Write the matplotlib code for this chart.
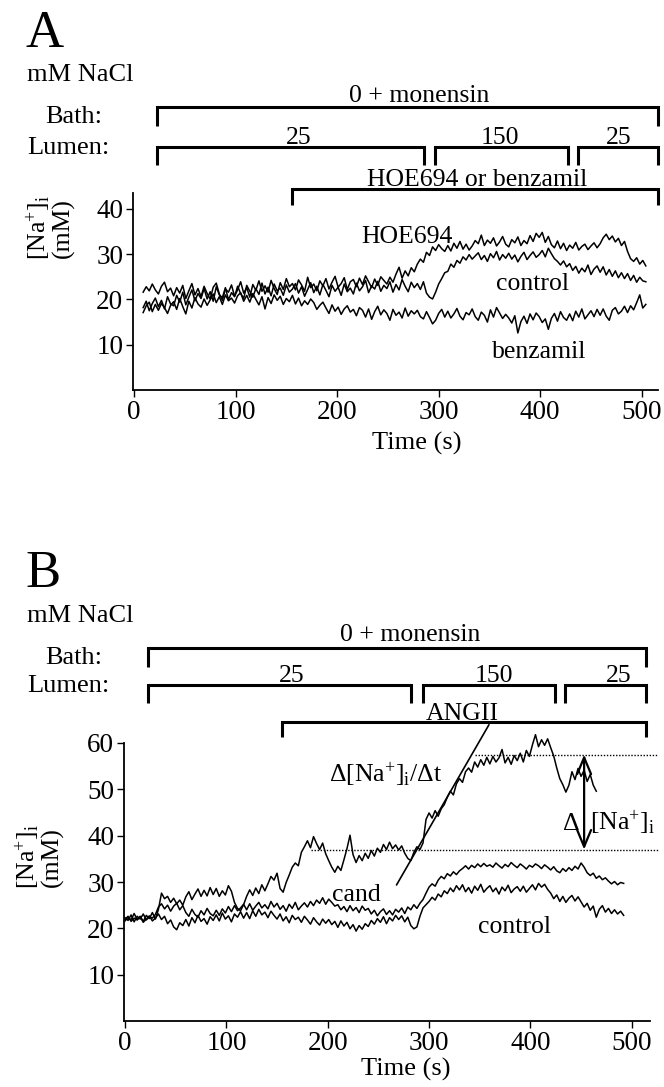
import matplotlib

matplotlib.use("Agg")
import matplotlib.pyplot as plt
import numpy as np

plt.rcParams["font.family"] = ["Liberation Serif", "DejaVu Serif"]
plt.rcParams["mathtext.fontset"] = "custom"
plt.rcParams["mathtext.rm"] = "Liberation Serif"
plt.rcParams["mathtext.it"] = "Liberation Serif:italic"
plt.rcParams["mathtext.default"] = "regular"

# ---------------- panel A data (time in s, [Na+]i in mM) ----------------
t_a = np.arange(9, 505, 3)
hoe694_a = [
    21.6, 22.8, 21.9, 23.4, 22.1, 21.2, 22.9, 23.8, 21.7, 22.5,
    20.8, 22.6, 21.4, 23.1, 20.2, 21.9, 23.5, 21.0, 22.4, 20.6,
    22.9, 21.3, 20.1, 22.7, 23.6, 21.2, 19.8, 22.3, 21.6, 23.2,
    20.7, 22.1, 23.9, 21.4, 22.6, 20.5, 23.3, 22.0, 24.1, 21.8,
    23.0, 21.6, 24.2, 22.4, 21.1, 23.7, 22.2, 24.6, 22.8, 23.5,
    22.1, 24.3, 23.2, 21.8, 24.9, 22.6, 23.4, 21.9, 24.1, 23.0,
    24.6, 22.3, 23.8, 25.1, 22.7, 23.5, 24.8, 22.2, 23.9, 24.4,
    22.8, 24.7, 23.3, 25.2, 23.9, 22.6, 24.5, 23.1, 25.0, 24.2,
    23.4, 24.9, 23.8, 25.6, 27.1, 24.7, 26.3, 25.2, 27.0, 26.1,
    27.8, 28.9, 28.2, 30.4, 29.7, 31.6, 30.8, 32.1, 31.2, 30.6,
    31.9, 30.7, 32.4, 31.3, 32.8, 31.1, 32.2, 30.9, 31.8, 33.0,
    32.3, 34.2, 31.9, 33.1, 32.4, 33.6, 31.8, 32.7, 33.9, 32.2,
    31.6, 33.2, 32.5, 33.8, 31.9, 33.0, 32.3, 34.1, 32.8, 34.6,
    33.7, 34.8, 32.6, 33.9, 32.1, 31.4, 32.9, 31.2, 32.4, 30.8,
    32.0, 31.3, 32.6, 30.9, 31.7, 32.2, 31.0, 31.8, 32.5, 31.4,
    32.3, 33.6, 34.4, 33.2, 34.0, 32.7, 33.5, 31.9, 32.8, 30.6,
    29.0, 28.4, 29.2, 27.8, 28.6, 27.4,
]
control_a = [
    18.2, 19.6, 17.5, 19.1, 20.3, 18.4, 19.8, 17.9, 20.6, 19.0,
    18.6, 20.9, 19.4, 21.6, 18.8, 20.5, 22.1, 19.7, 21.3, 20.2,
    22.4, 20.1, 21.7, 19.6, 22.8, 21.0, 20.4, 22.6, 19.9, 21.5,
    20.6, 22.9, 21.3, 20.2, 23.1, 21.8, 20.5, 22.4, 21.1, 23.6,
    21.2, 22.7, 20.8, 23.4, 21.9, 22.5, 20.9, 23.2, 21.6, 22.3,
    23.5, 21.4, 22.8, 20.7, 22.2, 23.7, 21.5, 22.9, 21.0, 23.3,
    22.0, 20.6, 23.1, 21.8, 22.7, 20.9, 23.4, 21.7, 22.5, 21.2,
    23.6, 21.9, 22.8, 24.2, 21.5, 23.0, 22.3, 24.0, 21.8, 23.1,
    22.4, 23.9, 21.6, 23.3, 22.1, 24.4, 22.9, 21.7, 23.8, 22.6,
    23.5, 22.2, 23.9, 21.4, 20.5, 20.1, 21.6, 23.4, 24.6, 25.9,
    26.2, 27.8, 27.1, 28.6, 28.0, 29.4, 28.7, 29.9, 28.9, 29.6,
    30.3, 28.8, 29.7, 28.4, 30.1, 29.2, 30.6, 28.7, 29.9, 29.1,
    30.2, 28.9, 29.8, 28.3, 29.5, 30.4, 28.8, 29.7, 30.5, 29.3,
    29.9, 30.8, 29.4, 31.3, 30.1, 29.0, 28.4, 27.6, 28.5, 27.2,
    27.9, 26.4, 27.3, 25.8, 26.9, 26.1, 27.6, 25.5, 26.7, 27.4,
    26.0, 27.2, 25.4, 26.6, 25.1, 26.3, 24.8, 25.9, 24.6, 25.7,
    24.2, 25.3, 23.8, 24.9, 24.1, 23.9,
]
benzamil_a = [
    17.1, 18.6, 19.4, 17.3, 18.9, 17.6, 19.1, 18.2, 16.9, 18.7,
    19.5, 17.8, 20.2, 18.4, 16.8, 19.6, 18.1, 20.4, 19.0, 18.3,
    20.1, 18.7, 19.9, 21.2, 19.3, 20.6, 18.9, 21.0, 19.7, 20.3,
    19.2, 20.8, 21.5, 19.6, 20.9, 19.4, 21.3, 20.0, 18.8, 20.6,
    17.9, 20.4, 19.1, 21.0, 19.8, 20.7, 18.9, 20.2, 19.5, 20.9,
    19.0, 20.3, 18.6, 19.7, 18.9, 20.1, 19.3, 17.8, 18.7, 19.4,
    18.1, 16.9, 18.8, 17.4, 18.3, 16.7, 17.9, 18.6, 17.2, 17.8,
    16.4, 18.2, 17.6, 16.1, 17.9, 15.6, 17.3, 18.5, 16.6, 17.7,
    16.9, 15.4, 17.8, 16.5, 17.2, 15.9, 18.1, 16.3, 17.5, 16.8,
    17.6, 16.2, 15.7, 17.3, 16.0, 14.6, 15.4, 16.9, 17.8, 16.1,
    17.4, 15.9, 16.8, 18.0, 16.3, 15.5, 17.1, 16.6, 17.9, 16.2,
    15.4, 17.2, 16.5, 15.0, 17.7, 16.1, 18.2, 17.0, 15.8, 16.7,
    15.9, 14.8, 16.4, 12.6, 15.1, 16.3, 14.7, 16.8, 15.5, 17.0,
    16.2, 14.9, 15.7, 13.4, 15.8, 16.9, 15.2, 17.3, 16.0, 15.4,
    16.8, 15.3, 17.4, 16.1, 17.9, 15.7, 16.6, 17.5, 16.2, 17.8,
    16.5, 17.9, 16.3, 15.4, 17.6, 18.2, 16.8, 17.4, 18.5, 17.1,
    18.6, 17.7, 19.3, 21.0, 18.1, 18.9,
]

# ---------------- panel B data ----------------
t_angii = np.arange(0, 466, 3)
angii_b = [
    21.6, 22.4, 21.8, 23.2, 21.9, 22.6, 21.5, 22.8, 22.1, 23.4,
    22.0, 24.1, 27.6, 26.4, 26.9, 25.6, 26.5, 25.3, 26.1, 25.0,
    26.8, 27.9, 26.2, 27.4, 28.5, 26.9, 28.2, 27.0, 28.8, 27.3,
    28.6, 26.9, 28.1, 27.2, 29.2, 28.0, 25.6, 24.3, 23.8, 25.1,
    26.9, 28.3, 27.1, 28.7, 27.5, 29.4, 28.1, 29.6, 31.2, 30.4,
    31.9, 28.6, 27.8, 29.9, 31.5, 33.2, 34.1, 33.5, 36.4, 37.6,
    38.9, 37.4, 39.8, 38.3, 37.0, 38.4, 36.1, 34.6, 33.2, 32.1,
    33.4, 32.5, 34.8, 37.2, 40.1, 35.9, 34.2, 35.7, 34.6, 36.2,
    35.1, 36.8, 35.6, 37.3, 36.4, 38.1, 37.0, 38.6, 37.2, 38.0,
    36.9, 37.8, 36.2, 35.1, 34.6, 36.4, 37.6, 37.0, 38.4, 43.5,
    44.9, 43.8, 45.4, 44.2, 45.8, 46.7, 48.3, 49.6, 48.8, 51.2,
    52.3, 51.5, 53.8, 54.6, 53.7, 55.9, 54.8, 56.4, 55.2, 56.9,
    55.5, 57.1, 55.9, 56.8, 58.6, 55.7, 56.9, 55.4, 57.3, 56.2,
    57.8, 55.9, 58.4, 57.1, 59.6, 61.8, 59.2, 60.7, 59.5, 60.9,
    59.0, 57.2, 54.6, 52.3, 51.0, 49.4, 50.9, 53.8, 52.1, 54.5,
    52.8, 54.1, 51.7, 53.2, 50.9, 49.6,
]
t_lower = np.arange(0, 493, 3)
cand_b = [
    22.3, 21.7, 22.9, 21.4, 22.6, 22.0, 23.1, 21.8, 22.5, 22.2,
    23.0, 24.6, 25.3, 24.2, 25.0, 23.7, 24.8, 25.4, 24.0, 24.9,
    23.4, 22.6, 24.1, 23.0, 22.4, 23.8, 22.9, 24.3, 23.2, 22.7,
    23.9, 22.8, 24.2, 23.3, 24.7, 23.6, 24.9, 23.8, 24.4, 25.2,
    24.0, 25.3, 23.9, 24.8, 25.6, 24.4, 25.1, 24.2, 25.8, 24.6,
    25.4, 24.1, 24.9, 23.7, 25.2, 24.3, 25.6, 24.0, 24.8, 25.5,
    24.6, 25.8, 24.9, 26.1, 25.4, 26.6, 25.2, 26.3, 25.6, 24.8,
    25.1, 24.0, 24.7, 23.6, 24.9, 23.8, 24.5, 23.4, 24.8, 23.9,
    24.3, 23.1, 23.9, 22.7, 23.6, 24.2, 23.0, 23.8, 22.9, 24.1,
    23.5, 24.4, 23.2, 24.6, 24.0, 25.1, 24.3, 25.4, 26.2, 27.6,
    28.9, 29.6, 29.1, 30.4, 31.2, 30.7, 31.8, 31.3, 32.2, 31.6,
    32.4, 32.9, 33.5, 32.8, 33.6, 33.1, 33.9, 33.3, 34.0, 33.4,
    33.7, 33.2, 34.1, 33.5, 33.0, 33.8, 33.3, 34.2, 33.6, 33.1,
    33.9, 33.4, 32.8, 33.6, 33.2, 33.9, 33.5, 32.9, 33.7, 33.2,
    32.6, 33.3, 32.4, 32.0, 32.9, 32.3, 33.1, 32.5, 33.4, 32.8,
    34.1, 33.2, 32.0, 31.4, 31.9, 30.8, 31.3, 30.5, 30.9, 30.2,
    29.6, 30.1, 29.4, 29.9, 29.7,
]
control_b = [
    21.9, 22.6, 21.5, 22.2, 21.8, 22.5, 21.3, 22.0, 22.7, 21.6,
    22.2, 23.1, 21.9, 22.6, 21.0, 21.8, 20.3, 19.7, 21.2, 20.6,
    21.9, 20.5, 22.3, 21.2, 22.8, 21.5, 22.1, 20.9, 22.5, 21.7,
    22.9, 21.6, 23.3, 22.0, 22.7, 21.4, 23.1, 22.4, 23.6, 22.2,
    23.4, 22.1, 23.8, 22.6, 24.1, 22.9, 23.5, 22.3, 23.7, 22.8,
    22.0, 23.1, 21.6, 22.5, 21.2, 22.8, 21.9, 22.4, 21.3, 22.6,
    21.8, 20.9, 22.3, 21.4, 20.7, 22.0, 21.1, 21.9, 20.8, 21.5,
    20.2, 21.6, 20.5, 21.3, 19.9, 20.8, 19.4, 20.6, 19.8, 21.0,
    20.4, 21.7, 20.9, 22.1, 21.3, 22.5, 21.0, 22.3, 21.6, 22.8,
    21.9, 22.7, 21.4, 22.4, 20.6, 19.9, 20.3, 22.6, 24.4, 25.1,
    25.8, 26.7, 26.1, 27.4, 26.8, 28.1, 27.5, 28.7, 27.9, 29.2,
    28.3, 29.4, 27.9, 28.8, 27.6, 29.1, 28.2, 29.5, 27.8, 28.6,
    29.2, 27.9, 28.7, 27.4, 28.9, 28.1, 29.3, 27.7, 28.5, 29.0,
    28.0, 29.1, 27.8, 28.6, 29.4, 28.3, 29.7, 28.9, 29.5, 28.4,
    27.6, 26.4, 27.2, 25.8, 26.9, 25.6, 26.5, 27.1, 25.9, 26.8,
    25.7, 24.6, 25.4, 23.9, 24.8, 22.4, 24.1, 24.9, 23.5, 24.3,
    23.2, 24.0, 23.1, 23.7, 22.8,
]

# protocol bars (start, end in s)
bath_span_a = (22.7, 516.0)
lumen_spans_a = [(22.7, 285.7), (296.6, 427.6), (437.4, 516.0)]
lumen_labels = ["25", "150", "25"]
drug_span_a = (155.7, 516.0)
bath_span_b = (22.7, 514.0)
lumen_spans_b = [(22.7, 282.3), (294.2, 424.5), (434.4, 514.0)]
drug_span_b = (155.0, 514.0)

# ANGII analysis annotations
slope_t = [268, 359]
slope_v = [29.4, 63.9]
plateau_levels = [37.0, 57.5]
plateau_starts = [184, 345]
delta_t = 453

W, H = 664, 1087
FS = 18.5
TICK_FS = 19.5


def fx(px):
    return px / W


def fy(py):
    return 1 - py / H


def bracket(ax, t0, t1, y, drop):
    ax.plot([t0, t0, t1, t1], [y - drop, y, y, y - drop], color="black",
            lw=2.2, clip_on=False, solid_joinstyle="miter", solid_capstyle="butt")


def style_axes(ax, yticks):
    for s in ("top", "right"):
        ax.spines[s].set_visible(False)
    for s in ("left", "bottom"):
        ax.spines[s].set_linewidth(1.3)
    ax.set_xticks([0, 100, 200, 300, 400, 500])
    ax.set_yticks(yticks)
    ax.tick_params(direction="out", length=5, width=1.0, labelsize=TICK_FS, pad=2)


fig = plt.figure(figsize=(W / 100, H / 100), dpi=100)

na_label = "[Na$^{+}$]$_{i}$\n(mM)"

# ---------------- panel A ----------------
ax_a = fig.add_axes([fx(133), fy(390), (658 - 133) / W, (390 - 193) / H])
for v in (hoe694_a, control_a, benzamil_a):
    ax_a.plot(t_a, v, color="black", lw=1.1)
ax_a.set_xlim(-1, 516)
ax_a.set_ylim(0, 43.5)
style_axes(ax_a, [10, 20, 30, 40])

bracket(ax_a, *bath_span_a, 62.5, 4.2)
ax_a.text(281, 63.6, "0 + monensin", ha="center", va="baseline", fontsize=FS)
for (t0, t1), lab, xc in zip(lumen_spans_a, lumen_labels, [162.6, 360.6, 476.8]):
    bracket(ax_a, t0, t1, 53.6, 3.9)
    ax_a.text(xc, 54.3, lab, ha="center", va="baseline", fontsize=FS)
bracket(ax_a, *drug_span_a, 44.4, 3.6)
ax_a.text(337.4, 45.0, "HOE694 or benzamil", ha="center", va="baseline", fontsize=FS)
ax_a.text(269, 32.5, "HOE694", ha="center", va="baseline", fontsize=FS)
ax_a.text(392, 22.1, "control", ha="center", va="baseline", fontsize=FS)
ax_a.text(399, 7.1, "benzamil", ha="center", va="baseline", fontsize=FS)
ax_a.text(278, -13.2, "Time (s)", ha="center", va="baseline", fontsize=19)

fig.text(fx(25), fy(47), "A", fontsize=38, va="baseline")
fig.text(fx(27), fy(81), "mM NaCl", fontsize=19, va="baseline")
fig.text(fx(45), fy(123), "Bath:", fontsize=19, va="baseline")
fig.text(fx(27), fy(154), "Lumen:", fontsize=19, va="baseline")
fig.text(fx(50), fy(228), na_label, fontsize=FS, rotation=90,
         ha="center", va="center", multialignment="center", linespacing=0.9)

# ---------------- panel B ----------------
ax_b = fig.add_axes([fx(124), fy(1021), (650 - 124) / W, (1021 - 743) / H])
ax_b.plot(t_angii, angii_b, color="black", lw=1.1, clip_on=False)
ax_b.plot(t_lower, cand_b, color="black", lw=1.1)
ax_b.plot(t_lower, control_b, color="black", lw=1.1)
ax_b.set_xlim(-1, 518)
ax_b.set_ylim(0, 60)
style_axes(ax_b, [10, 20, 30, 40, 50, 60])

bracket(ax_b, *bath_span_b, 80.5, 4.1)
ax_b.text(281, 82.0, "0 + monensin", ha="center", va="baseline", fontsize=FS)
for (t0, t1), lab, xc in zip(lumen_spans_b, lumen_labels, [164, 364, 487]):
    bracket(ax_b, t0, t1, 72.5, 3.9)
    ax_b.text(xc, 73.2, lab, ha="center", va="baseline", fontsize=FS)
bracket(ax_b, *drug_span_b, 64.5, 3.2)
ax_b.text(332.7, 65.0, "ANGII", ha="center", va="baseline", fontsize=FS)

ax_b.plot(slope_t, slope_v, color="black", lw=1.2, clip_on=False)
for lvl, t0 in zip(plateau_levels, plateau_starts):
    ax_b.plot([t0, 526], [lvl, lvl], color="black", lw=1.0, ls=(0, (1, 1.2)), clip_on=False)
ax_b.annotate("", xy=(delta_t, plateau_levels[1]), xytext=(delta_t, plateau_levels[0]),
              arrowprops=dict(arrowstyle="<->,head_length=0.6,head_width=0.25",
                              lw=1.6, color="black", mutation_scale=20,
                              shrinkA=0, shrinkB=0))
ax_b.text(201, 51.5, "Δ[Na$^{+}$]$_{i}$/Δt", ha="left", va="baseline", fontsize=FS)
ax_b.text(440, 41.2, "Δ", ha="center", va="baseline", fontsize=FS)
ax_b.text(459, 41.2, "[Na$^{+}$]$_{i}$", ha="left", va="baseline", fontsize=FS, clip_on=False)
ax_b.text(228, 26.0, "cand", ha="center", va="baseline", fontsize=FS)
ax_b.text(384, 19.0, "control", ha="center", va="baseline", fontsize=FS)
ax_b.text(277, -11.7, "Time (s)", ha="center", va="baseline", fontsize=19)

fig.text(fx(25), fy(587), "B", fontsize=38, va="baseline")
fig.text(fx(27), fy(622), "mM NaCl", fontsize=19, va="baseline")
fig.text(fx(45), fy(664), "Bath:", fontsize=19, va="baseline")
fig.text(fx(27), fy(692), "Lumen:", fontsize=19, va="baseline")
fig.text(fx(39), fy(857), na_label, fontsize=FS, rotation=90,
         ha="center", va="center", multialignment="center", linespacing=0.9)

fig.savefig("out.png", dpi=100)
